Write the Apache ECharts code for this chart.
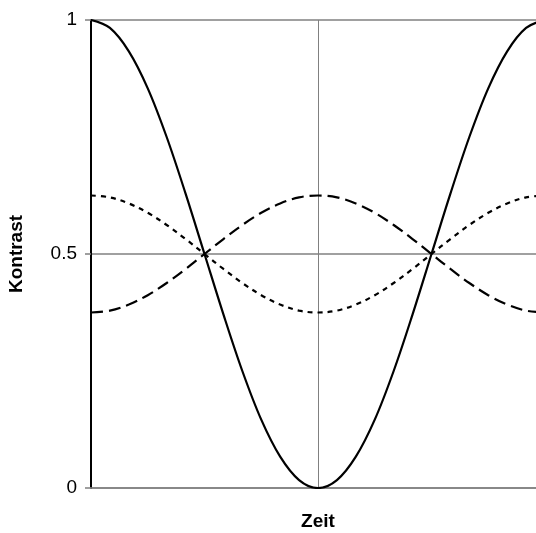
<!DOCTYPE html>
<html>
<head>
<meta charset="utf-8">
<script src="https://cdn.jsdelivr.net/npm/echarts@6/dist/echarts.min.js"></script>
<style>
  html, body { margin: 0; padding: 0; background: #fff; overflow: hidden; }
  #chart { width: 536px; height: 533px; }
</style>
</head>
<body>
<div id="chart"></div>
<script>
// Time steps across one full period (0 .. 24)
var zeit = [0, 1, 2, 3, 4, 5, 6, 7, 8, 9, 10, 11, 12, 13, 14, 15, 16, 17, 18, 19, 20, 21, 22, 23, 24];

// Full-amplitude contrast
var kontrastVoll = [1, 0.983, 0.933, 0.854, 0.75, 0.629, 0.5, 0.371, 0.25, 0.146, 0.067, 0.017, 0,
                    0.017, 0.067, 0.146, 0.25, 0.371, 0.5, 0.629, 0.75, 0.854, 0.933, 0.983, 1];
// Reduced contrast, opposite phase
var kontrastGestrichelt = [0.375, 0.379, 0.392, 0.412, 0.438, 0.468, 0.5, 0.532, 0.562, 0.588, 0.608, 0.621, 0.625,
                           0.621, 0.608, 0.588, 0.562, 0.532, 0.5, 0.468, 0.438, 0.412, 0.392, 0.379, 0.375];
// Reduced contrast, same phase
var kontrastPunktiert = [0.625, 0.621, 0.608, 0.588, 0.562, 0.532, 0.5, 0.468, 0.438, 0.412, 0.392, 0.379, 0.375,
                         0.379, 0.392, 0.412, 0.438, 0.468, 0.5, 0.532, 0.562, 0.588, 0.608, 0.621, 0.625];

var yTicks = [0, 0.5, 1];

function pairs(values) {
  return zeit.map(function (t, i) { return [t, values[i]]; });
}

var chart = echarts.init(document.getElementById('chart'), null, { renderer: 'canvas' });
var font = 'Liberation Sans, Arial, sans-serif';

chart.setOption({
  animation: false,
  // plot runs slightly past the right edge of the canvas
  grid: { left: 91, top: 20, width: 454, height: 468, outerBoundsMode: 'none', containLabel: false },
  xAxis: {
    type: 'value',
    min: 0, max: 24, interval: 12,
    name: 'Zeit',
    nameLocation: 'middle',
    nameGap: 24,
    nameTextStyle: { fontFamily: font, fontSize: 19, fontWeight: 'bold', color: '#000' },
    axisLine: { show: true, lineStyle: { color: '#808080', width: 1.5 } },
    axisTick: { show: false },
    axisLabel: { show: false },
    splitLine: { show: true, lineStyle: { color: '#808080', width: 1 } }
  },
  yAxis: {
    type: 'value',
    min: 0, max: 1, interval: 0.5,
    name: 'Kontrast',
    nameLocation: 'middle',
    nameGap: 65,
    nameTextStyle: { fontFamily: font, fontSize: 19, fontWeight: 'bold', color: '#000' },
    axisLine: { show: true, lineStyle: { color: '#000', width: 2 } },
    axisTick: { show: true, length: 6, lineStyle: { color: '#808080', width: 1.5 } },
    axisLabel: {
      margin: 14, fontFamily: font, fontSize: 19, color: '#000',
      formatter: function (v) { return yTicks.indexOf(v) >= 0 ? String(v) : ''; }
    },
    splitLine: { show: true, lineStyle: { color: '#808080', width: 1.5 } }
  },
  series: [
    {
      type: 'line', data: pairs(kontrastVoll), smooth: 0.35, symbol: 'none',
      lineStyle: { color: '#000', width: 2.2, type: 'solid' }, z: 5
    },
    {
      type: 'line', data: pairs(kontrastGestrichelt), smooth: 0.35, symbol: 'none',
      lineStyle: { color: '#000', width: 2.2, type: [12, 6] }, z: 4
    },
    {
      type: 'line', data: pairs(kontrastPunktiert), smooth: 0.35, symbol: 'none',
      lineStyle: { color: '#000', width: 2.2, type: [5, 5] }, z: 4
    }
  ]
});
</script>
</body>
</html>
